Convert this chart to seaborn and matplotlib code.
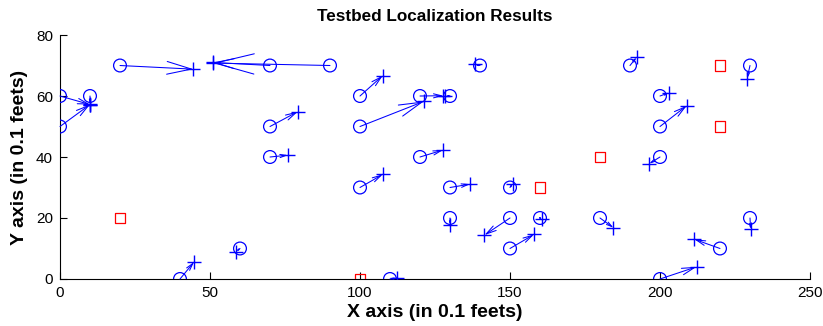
import numpy as np
import pandas as pd
import matplotlib
matplotlib.use("Agg")
import matplotlib.pyplot as plt
import seaborn as sns

# --- DATA ---
true_x = [0, 0, 10, 20, 40, 60, 70, 90, 70, 70, 100, 100, 100, 110, 120, 130, 120,
          140, 130, 130, 150, 150, 150, 160, 180, 190, 200, 200, 200, 200, 220, 230, 230]
true_y = [60, 50, 60, 70, 0, 10, 70, 70, 50, 40, 60, 50, 30, 0, 60, 60, 40,
          70, 30, 20, 30, 20, 10, 20, 20, 70, 60, 50, 40, 0, 10, 70, 20]
est_x = [10, 10, 10, 44.5, 44.7, 58.7, 51, 51, 79.3, 76, 107.6, 121.2, 107.6, 112.5, 127.8, 128.5, 127.7,
         138.3, 136.7, 130, 150.9, 141.5, 158, 160.8, 184.5, 192.2, 203.1, 208.9, 196.4, 212.2, 211.5, 229, 230.2]
est_y = [57.2, 57.2, 57.5, 68.8, 5.6, 9, 71, 70.8, 54.9, 40.6, 66.7, 58.2, 34.3, 0.3, 60.1, 60, 42.3,
         70.4, 31.1, 17.7, 31.3, 14.4, 14.6, 19.7, 16.8, 72.7, 61.1, 56.8, 37.8, 4, 13, 65.6, 16.3]
anchor_x = [20, 100, 160, 180, 220, 220]
anchor_y = [20, 0, 30, 40, 70, 50]

df = pd.DataFrame({"tx": true_x, "ty": true_y, "ex": est_x, "ey": est_y})
anchors = pd.DataFrame({"x": anchor_x, "y": anchor_y})

sns.set_style("ticks", {"axes.edgecolor": "black", "text.color": "black",
                        "axes.labelcolor": "black", "xtick.color": "black",
                        "ytick.color": "black"})
plt.rcParams["font.family"] = ["Liberation Sans", "DejaVu Sans"]

fig = plt.figure(figsize=(8.23, 3.26), dpi=100)
ax = fig.add_axes([0.0729, 0.1442, 0.9113, 0.7484])

# arrows from true position to estimate (MATLAB quiver-like open heads)
for _, r in df.iterrows():
    L = np.hypot(r.ex - r.tx, r.ey - r.ty)
    if L < 0.5:
        continue
    hl = 0.072 * L
    ax.annotate("", xy=(r.ex, r.ey), xytext=(r.tx, r.ty),
                arrowprops=dict(arrowstyle=f"->,head_length={hl:.3f},head_width={0.26 * hl:.3f}",
                                color="#0000ff", lw=0.75, shrinkA=0, shrinkB=0))

sns.scatterplot(data=df, x="tx", y="ty", marker="o", s=85, facecolors="none",
                edgecolor="#0000ff", linewidth=0.9, ax=ax, zorder=3)
sns.scatterplot(data=df, x="ex", y="ey", marker="+", s=100, color="#0000ff",
                linewidth=1.0, ax=ax, zorder=3)
sns.scatterplot(data=anchors, x="x", y="y", marker="s", s=62, facecolors="none",
                edgecolor="#ff0000", linewidth=0.9, ax=ax, zorder=3)

ax.set_xlim(0, 250)
ax.set_ylim(0, 80)
ax.set_xticks([0, 50, 100, 150, 200, 250])
ax.set_yticks([0, 20, 40, 60, 80])
ax.tick_params(direction="in", length=5, labelsize=11, colors="black", pad=5)
sns.despine(ax=ax)
ax.set_title("Testbed Localization Results", fontsize=12.3, fontweight="bold", pad=10, color="black")
ax.set_xlabel("X axis (in 0.1 feets)", fontsize=14, fontweight="bold", labelpad=3, color="black")
ax.set_ylabel("Y axis (in 0.1 feets)", fontsize=14, fontweight="bold", labelpad=6, color="black")

plt.savefig("out.png", dpi=100)
